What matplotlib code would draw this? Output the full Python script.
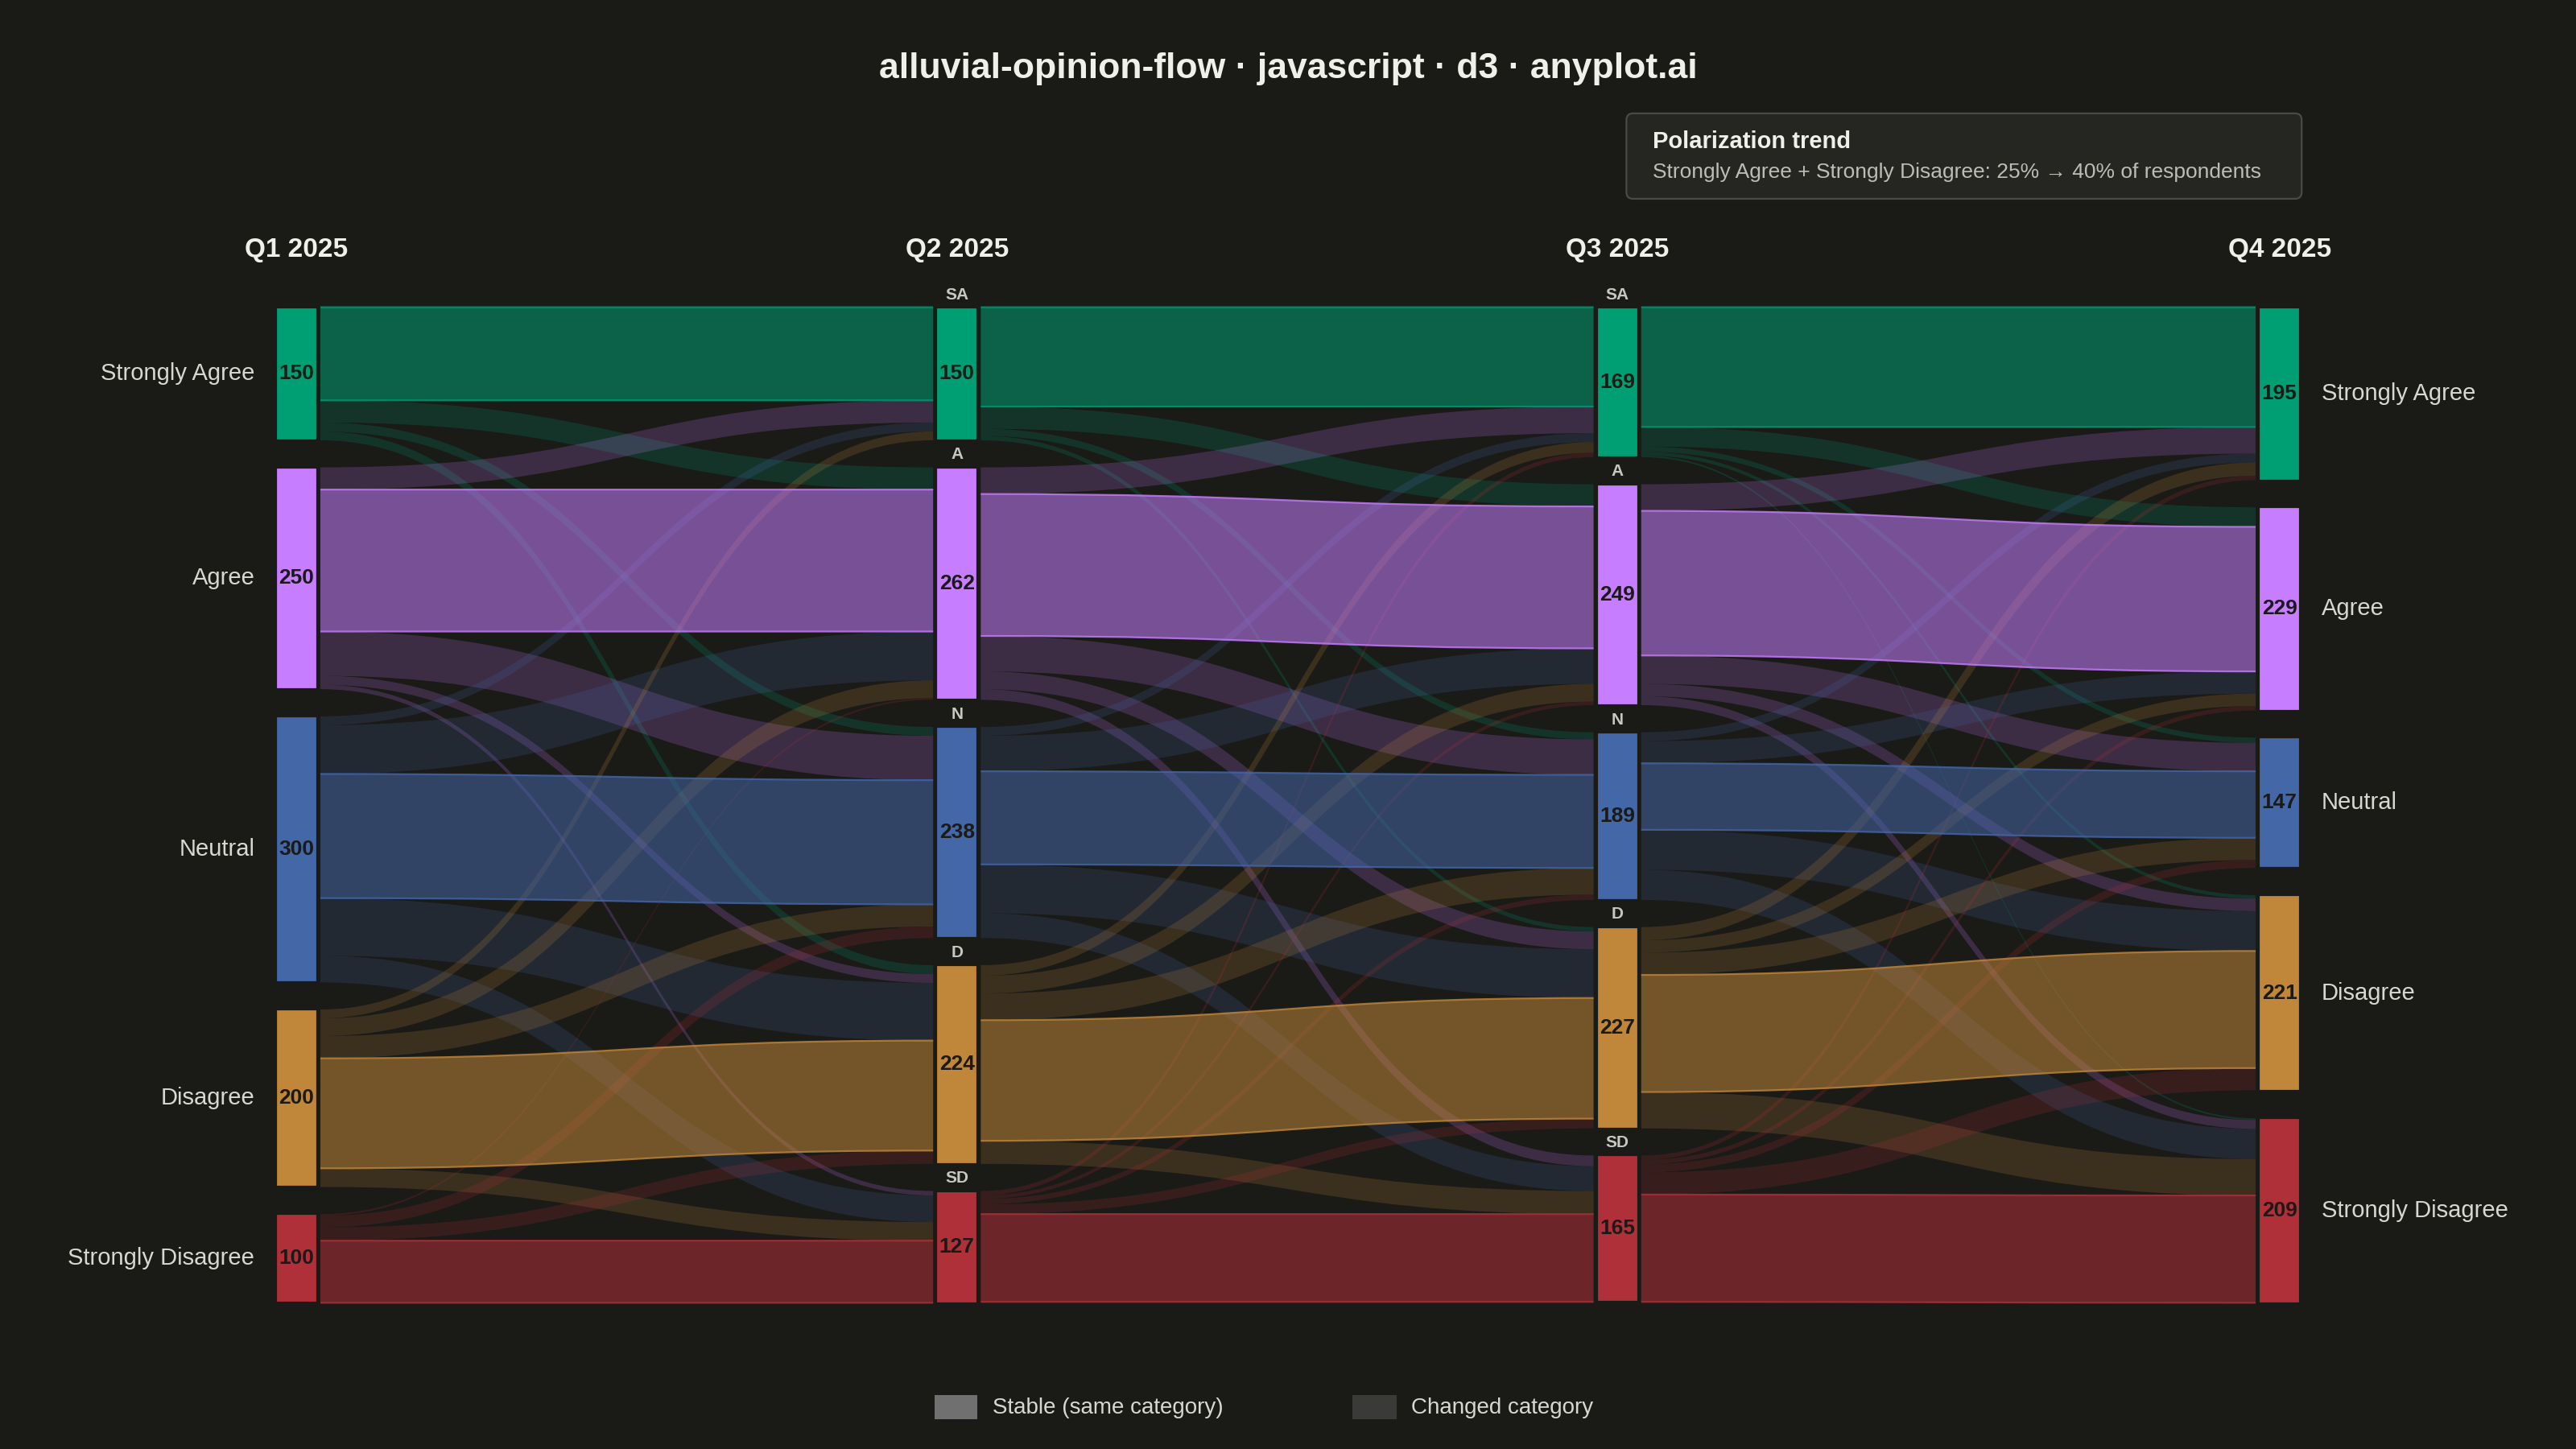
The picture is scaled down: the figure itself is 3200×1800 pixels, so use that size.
import matplotlib.pyplot as plt
from matplotlib.path import Path
from matplotlib.patches import PathPatch, Rectangle, FancyBboxPatch

plt.rcParams['font.family'] = ['Liberation Sans', 'DejaVu Sans']

# data
quarters = ["Q1 2025", "Q2 2025", "Q3 2025", "Q4 2025"]
categories = ["Strongly Agree", "Agree", "Neutral", "Disagree", "Strongly Disagree"]
abbrev = ["SA", "A", "N", "D", "SD"]
colors = ["#009e73", "#c77dff", "#4467a8", "#c0863a", "#b0303a"]
node_totals = [
    [150, 250, 300, 200, 100],
    [150, 262, 238, 224, 127],
    [169, 249, 189, 227, 165],
    [195, 229, 147, 221, 209],
]
# transitions: rows = from category, cols = to category
flows_q1_q2 = [
    [105, 25, 10, 10, 0],
    [25, 160, 50, 10, 5],
    [10, 55, 140, 65, 30],
    [10, 20, 25, 124, 21],
    [0, 2, 13, 15, 70],
]
flows_q2_q3 = [
    [112, 25, 8, 5, 0],
    [30, 160, 40, 20, 12],
    [10, 40, 105, 55, 28],
    [12, 20, 30, 136, 26],
    [5, 4, 6, 11, 99],
]
flows_q3_q4 = [
    [135, 22, 6, 4, 2],
    [30, 163, 32, 14, 10],
    [10, 25, 75, 45, 34],
    [15, 14, 25, 132, 41],
    [5, 5, 9, 25, 121],
]
transitions = [flows_q1_q2, flows_q2_q3, flows_q3_q4]

BG = "#1a1a17"
TXT = "#d8d8d2"
col_x = [168, 570, 972, 1375]
node_w = 25
top = 187
scale = 0.54
gap = 16.5

fig = plt.figure(figsize=(16, 9), dpi=200, facecolor=BG)
ax = fig.add_axes([0, 0, 1, 1])
ax.set_facecolor(BG)
ax.set_xlim(0, 1568)
ax.set_ylim(882, 0)
ax.axis("off")

# node positions
node_y = []
for totals in node_totals:
    ys, y = [], top
    for v in totals:
        ys.append(y)
        y += v * scale + gap
    node_y.append(ys)


def ribbon(x0, y0t, y0b, x1, y1t, y1b, color, alpha, edge):
    xm = (x0 + x1) / 2
    verts = [(x0, y0t), (xm, y0t), (xm, y1t), (x1, y1t),
             (x1, y1b), (xm, y1b), (xm, y0b), (x0, y0b), (x0, y0t)]
    codes = [Path.MOVETO, Path.CURVE4, Path.CURVE4, Path.CURVE4,
             Path.LINETO, Path.CURVE4, Path.CURVE4, Path.CURVE4, Path.CLOSEPOLY]
    ax.add_patch(PathPatch(Path(verts, codes), facecolor=color, alpha=alpha,
                           edgecolor="none", zorder=3 if edge else 2))
    if edge:
        for yy0, yy1 in ((y0t, y1t), (y0b, y1b)):
            p = Path([(x0, yy0), (xm, yy0), (xm, yy1), (x1, yy1)],
                     [Path.MOVETO, Path.CURVE4, Path.CURVE4, Path.CURVE4])
            ax.add_patch(PathPatch(p, facecolor="none", edgecolor=color,
                                   lw=0.8, alpha=0.8, zorder=3))


for t, mat in enumerate(transitions):
    x0 = col_x[t] + node_w + 2
    x1 = col_x[t + 1] - 2
    out_off = [0.0] * 5
    in_off = [0.0] * 5
    segs = []
    for i in range(5):
        for j in range(5):
            v = mat[i][j]
            if v == 0:
                continue
            segs.append((i, j, v, node_y[t][i] + out_off[i]))
            out_off[i] += v * scale
    in_pos = {}
    for j in range(5):
        for i in range(5):
            v = mat[i][j]
            if v == 0:
                continue
            in_pos[(i, j)] = node_y[t + 1][j] + in_off[j]
            in_off[j] += v * scale
    segs.sort(key=lambda s: s[0] == s[1])
    for i, j, v, y0 in segs:
        y1 = in_pos[(i, j)]
        h = v * scale
        stable = i == j
        ribbon(x0, y0, y0 + h, x1, y1, y1 + h, colors[i],
               0.55 if stable else 0.2, stable)

# nodes
for c, totals in enumerate(node_totals):
    for k, v in enumerate(totals):
        y = node_y[c][k]
        h = v * scale
        ax.add_patch(Rectangle((col_x[c], y), node_w, h, facecolor=colors[k],
                               edgecolor=BG, lw=0.8, zorder=4))
        ax.text(col_x[c] + node_w / 2, y + h / 2, str(v), ha="center", va="center",
                fontsize=9.5, fontweight="bold", color="#1a1a17", zorder=5)
        if c in (1, 2):
            ax.text(col_x[c] + node_w / 2, y - 3, abbrev[k], ha="center", va="bottom",
                    fontsize=7.5, fontweight="bold", color="#c8c8c2", zorder=5)
        if c == 0:
            ax.text(155, y + h / 2, categories[k], ha="right", va="center",
                    fontsize=10.5, color=TXT)
        if c == 3:
            ax.text(1413, y + h / 2, categories[k], ha="left", va="center",
                    fontsize=10.5, color=TXT)
    ax.text(col_x[c] + node_w / 2, 152, quarters[c], ha="center", va="center",
            fontsize=12, fontweight="bold", color="#f0f0ea")

ax.text(784, 42, "alluvial-opinion-flow · javascript · d3 · anyplot.ai", ha="center",
        va="center", fontsize=16, fontweight="bold", color="#f0f0ea")

# annotation box
ax.add_patch(FancyBboxPatch((990, 69), 411, 52, boxstyle="round,pad=0,rounding_size=4",
                            facecolor="#252522", edgecolor="#4a4a46", lw=0.8, zorder=5))
ax.text(1006, 86, "Polarization trend", ha="left", va="center", fontsize=10.5,
        fontweight="bold", color="#f0f0ea", zorder=6)
ax.text(1006, 105, "Strongly Agree + Strongly Disagree: 25% → 40% of respondents",
        ha="left", va="center", fontsize=9.5, color="#bdbdb6", zorder=6)

# legend
ax.add_patch(Rectangle((569, 849), 26, 15, facecolor="#707070", edgecolor="none"))
ax.text(604, 857, "Stable (same category)", ha="left", va="center", fontsize=10, color=TXT)
ax.add_patch(Rectangle((823, 849), 27, 15, facecolor="#3a3a38", edgecolor="none"))
ax.text(859, 857, "Changed category", ha="left", va="center", fontsize=10, color=TXT)

fig.savefig("out.png", facecolor=BG)
